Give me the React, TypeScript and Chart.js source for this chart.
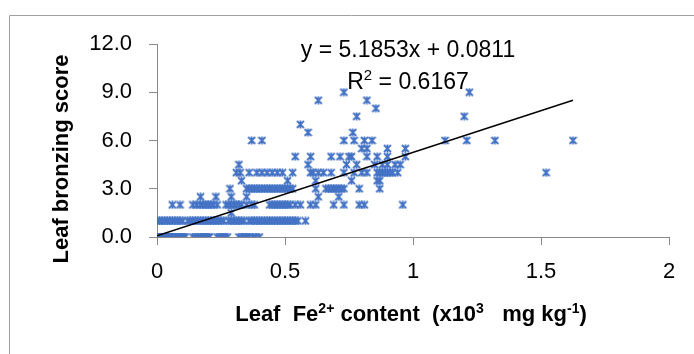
import React, { useEffect, useRef } from "react";
import { Chart, registerables } from "chart.js";

Chart.register(...registerables);

const FONT = "'Liberation Sans', Arial, sans-serif";
const MARKER_COLOR = "#4472C4";
const AXIS_COLOR = "#898989";

// Linear trend (Excel) shown on the chart
const slope = 5.1853;
const intercept = 0.0811;
const rSquared = 0.6167;
const trendStartX = 0;
const trendEndX = 1.625;

// Axis ranges / ticks
const xMin = 0;
const xMax = 2;
const xStep = 0.5;
const yMin = 0;
const yMax = 12;
const yStep = 3;

// Leaf Fe2+ content (x10^3 mg/kg) grouped by leaf bronzing score
const fe_score0 = [0, 0.005, 0.01, 0.015, 0.02, 0.025, 0.03, 0.035, 0.04, 0.045, 0.05, 0.055, 0.06, 0.065, 0.07, 0.075, 0.08, 0.085, 0.09, 0.095, 0.1, 0.105, 0.11, 0.14, 0.15, 0.16, 0.17, 0.18, 0.185, 0.19, 0.2, 0.205, 0.235, 0.245, 0.25, 0.26, 0.265, 0.275, 0.32, 0.33, 0.34, 0.345, 0.35, 0.36, 0.375, 0.385, 0.4];
const fe_score1 = [0, 0.01, 0.02, 0.03, 0.04, 0.05, 0.06, 0.07, 0.08, 0.09, 0.1, 0.12, 0.13, 0.14, 0.15, 0.16, 0.17, 0.18, 0.19, 0.2, 0.21, 0.22, 0.23, 0.24, 0.25, 0.26, 0.28, 0.29, 0.3, 0.31, 0.32, 0.33, 0.34, 0.36, 0.37, 0.38, 0.39, 0.4, 0.41, 0.42, 0.43, 0.44, 0.45, 0.46, 0.47, 0.48, 0.49, 0.5, 0.51, 0.52, 0.53, 0.54, 0.55, 0.58];
const fe_score1_5 = [0.29];
const fe_score2 = [0.06, 0.09, 0.14, 0.155, 0.17, 0.18, 0.19, 0.2, 0.21, 0.22, 0.235, 0.27, 0.28, 0.29, 0.3, 0.31, 0.32, 0.33, 0.35, 0.37, 0.38, 0.44, 0.45, 0.46, 0.47, 0.48, 0.49, 0.5, 0.51, 0.52, 0.54, 0.56, 0.6, 0.62, 0.69, 0.73, 0.79, 0.81, 0.96];
const fe_score2_5 = [0.17, 0.23, 0.29, 0.35, 0.63, 0.71];
const fe_score3 = [0.285, 0.35, 0.36, 0.37, 0.38, 0.39, 0.4, 0.41, 0.42, 0.43, 0.44, 0.45, 0.46, 0.47, 0.48, 0.49, 0.5, 0.51, 0.52, 0.53, 0.62, 0.66, 0.67, 0.68, 0.69, 0.7, 0.71, 0.72, 0.73, 0.79, 0.87];
const fe_score3_5 = [0.33, 0.51, 0.62, 0.76, 0.86, 0.87];
const fe_score4 = [0.31, 0.325, 0.36, 0.39, 0.41, 0.43, 0.45, 0.47, 0.49, 0.53, 0.6, 0.61, 0.63, 0.65, 0.68, 0.73, 0.77, 0.8, 0.82, 0.86, 0.87, 0.88, 0.89, 0.9, 0.91, 0.92, 0.94, 1.52];
const fe_score4_5 = [0.32, 0.59, 0.74, 0.78, 0.85, 0.88, 0.9, 0.93, 0.95];
const fe_score5 = [0.54, 0.6, 0.68, 0.715, 0.75, 0.76, 0.82, 0.86, 0.9, 0.97];
const fe_score5_5 = [0.8, 0.82, 0.9, 0.97];
const fe_score6 = [0.37, 0.41, 0.73, 0.77, 0.81, 0.84, 1.125, 1.21, 1.32, 1.625];
const fe_score6_5 = [0.59, 0.765];
const fe_score7 = [0.56];
const fe_score7_5 = [0.78, 1.2];
const fe_score8 = [0.855];
const fe_score8_5 = [0.63, 0.82];
const fe_score9 = [0.73, 1.22];

const scoreLevels = [0, 1, 1.5, 2, 2.5, 3, 3.5, 4, 4.5, 5, 5.5, 6, 6.5, 7, 7.5, 8, 8.5, 9];
const feByLevel = [fe_score0, fe_score1, fe_score1_5, fe_score2, fe_score2_5, fe_score3, fe_score3_5, fe_score4, fe_score4_5, fe_score5, fe_score5_5, fe_score6, fe_score6_5, fe_score7, fe_score7_5, fe_score8, fe_score8_5, fe_score9];

function makeMarker(): HTMLCanvasElement {
  const c = document.createElement("canvas");
  c.width = 9;
  c.height = 9;
  const g = c.getContext("2d")!;
  g.strokeStyle = MARKER_COLOR;
  g.lineWidth = 1.8;
  g.beginPath();
  g.moveTo(1, 1);
  g.lineTo(8, 8);
  g.moveTo(8, 1);
  g.lineTo(1, 8);
  g.moveTo(4.5, 0.5);
  g.lineTo(4.5, 8.5);
  g.stroke();
  return c;
}

type Part = { t: string; sup?: boolean };

const xTitleParts: Part[] = [
  { t: "Leaf  Fe" },
  { t: "2+", sup: true },
  { t: " content  (x10" },
  { t: "3", sup: true },
  { t: "   mg kg" },
  { t: "-1", sup: true },
  { t: ")" },
];

const r2Parts: Part[] = [
  { t: "R" },
  { t: "2", sup: true },
  { t: ` = ${rSquared}` },
];

function drawParts(
  ctx: CanvasRenderingContext2D,
  parts: Part[],
  cx: number,
  baseY: number,
  mainFont: string,
  supFont: string,
  raise: number
) {
  let total = 0;
  for (const p of parts) {
    ctx.font = p.sup ? supFont : mainFont;
    total += ctx.measureText(p.t).width;
  }
  let x = cx - total / 2;
  ctx.textAlign = "left";
  ctx.textBaseline = "alphabetic";
  for (const p of parts) {
    ctx.font = p.sup ? supFont : mainFont;
    ctx.fillText(p.t, x, p.sup ? baseY - raise : baseY);
    x += ctx.measureText(p.t).width;
  }
}

const overlayPlugin = {
  id: "overlay",
  beforeDraw(chart: any) {
    const ctx = chart.ctx as CanvasRenderingContext2D;
    ctx.save();
    ctx.fillStyle = "#ffffff";
    ctx.fillRect(0, 0, chart.width, chart.height);
    ctx.strokeStyle = "#a0a0a0";
    ctx.lineWidth = 1;
    ctx.beginPath();
    ctx.moveTo(9.5, chart.height);
    ctx.lineTo(9.5, 15.5);
    ctx.lineTo(chart.width, 15.5);
    ctx.stroke();
    ctx.restore();
  },
  afterDraw(chart: any) {
    const ctx = chart.ctx as CanvasRenderingContext2D;
    ctx.save();
    ctx.fillStyle = "#000000";
    // Equation
    ctx.font = `23px ${FONT}`;
    ctx.textAlign = "center";
    ctx.textBaseline = "alphabetic";
    ctx.fillText(`y = ${slope}x + ${intercept}`, 408, 57);
    drawParts(ctx, r2Parts, 408, 89, `23px ${FONT}`, `15px ${FONT}`, 9);

    // X title
    drawParts(ctx, xTitleParts, 411, 321, `bold 22px ${FONT}`, `bold 14px ${FONT}`, 8);

    // Y title
    ctx.translate(62, 159);
    ctx.rotate(-Math.PI / 2);
    ctx.font = `bold 22px ${FONT}`;
    ctx.textAlign = "center";
    ctx.textBaseline = "middle";
    ctx.fillText("Leaf bronzing score", 0, 0);
    ctx.restore();
  },
};

export default function App() {
  const ref = useRef<HTMLCanvasElement | null>(null);

  useEffect(() => {
    if (!ref.current) return;
    const points: { x: number; y: number }[] = [];
    scoreLevels.forEach((s, i) => {
      feByLevel[i].forEach((fe) => points.push({ x: fe, y: s }));
    });
    const trend = [
      { x: trendStartX, y: slope * trendStartX + intercept },
      { x: trendEndX, y: slope * trendEndX + intercept },
    ];
    const marker = makeMarker();

    const chart = new Chart(ref.current, {
      type: "scatter",
      data: {
        datasets: [
          {
            type: "line",
            data: trend,
            borderColor: "#000000",
            borderWidth: 1.5,
            pointRadius: 0,
            fill: false,
            order: 0,
          } as any,
          {
            data: points,
            pointStyle: marker as any,
            pointRadius: 4,
            order: 1,
          },
        ],
      },
      options: {
        animation: false,
        responsive: false,
        maintainAspectRatio: false,
        layout: { padding: { left: 0, right: 25, top: 44, bottom: 0 } },
        plugins: { legend: { display: false }, tooltip: { enabled: false } },
        scales: {
          x: {
            type: "linear",
            min: xMin,
            max: xMax,
            afterFit: (s: any) => {
              s.height = 117;
            },
            ticks: {
              stepSize: xStep,
              color: "#000000",
              font: { family: FONT, size: 22 },
              padding: 14,
              maxRotation: 0,
              callback: (v: any) => String(v),
            },
            grid: { drawOnChartArea: false, drawTicks: true, tickLength: 8, color: AXIS_COLOR },
            border: { display: true, color: AXIS_COLOR, width: 1 },
          },
          y: {
            type: "linear",
            min: yMin,
            max: yMax,
            afterFit: (s: any) => {
              s.width = 157;
            },
            ticks: {
              stepSize: yStep,
              color: "#000000",
              font: { family: FONT, size: 22 },
              padding: 17,
              callback: (v: any) => Number(v).toFixed(1),
            },
            grid: { drawOnChartArea: false, drawTicks: true, tickLength: 8, color: AXIS_COLOR },
            border: { display: true, color: AXIS_COLOR, width: 1 },
          },
        },
      },
      plugins: [overlayPlugin],
    });
    return () => chart.destroy();
  }, []);

  return (
    <div style={{ position: "absolute", left: 0, top: 0, width: 694, height: 354 }}>
      <canvas ref={ref} width={694} height={354} style={{ width: 694, height: 354 }} />
    </div>
  );
}
